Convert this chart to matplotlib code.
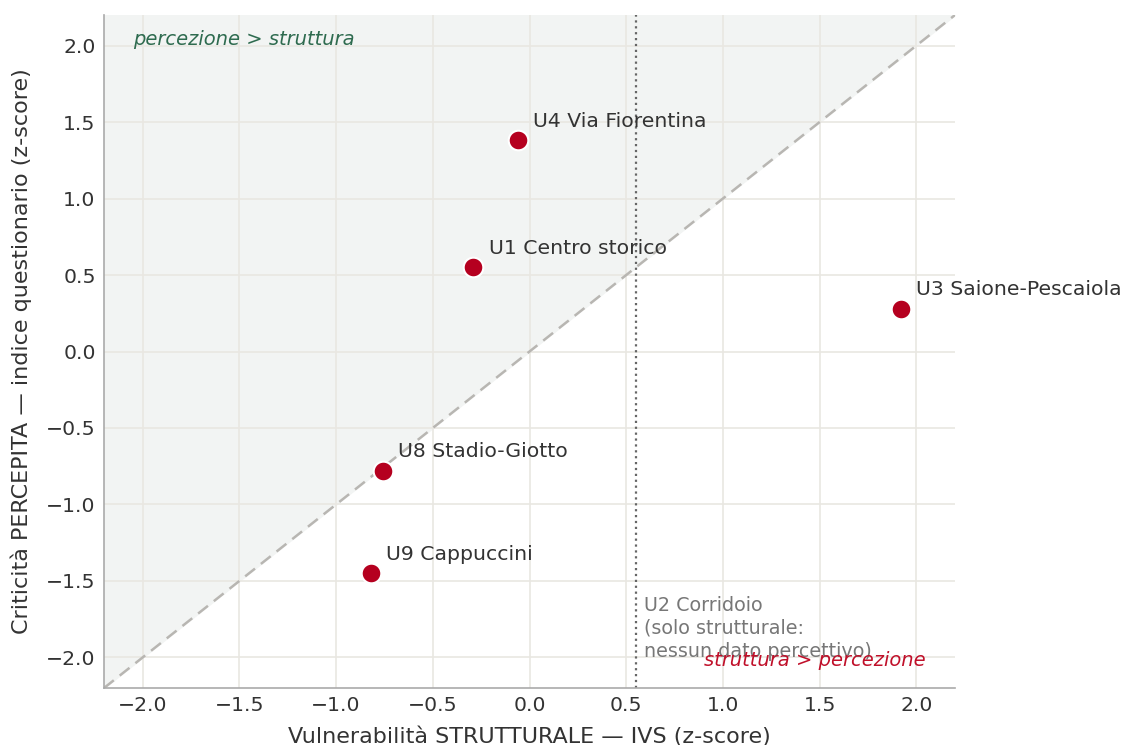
import matplotlib
matplotlib.use("Agg")
import matplotlib.pyplot as plt
import numpy as np

# unità urbane con entrambi gli indici
names = ["U4 Via Fiorentina", "U1 Centro storico", "U3 Saione-Pescaiola",
         "U8 Stadio-Giotto", "U9 Cappuccini"]
ivs_z = [-0.06, -0.29, 1.92, -0.76, -0.82]
perc_z = [1.38, 0.55, 0.28, -0.78, -1.45]

# U2: solo dato strutturale
u2_ivs = 0.55
u2_label = "U2 Corridoio\n(solo strutturale:\nnessun dato percettivo)"

lim = 2.2
ticks = [-2.0, -1.5, -1.0, -0.5, 0.0, 0.5, 1.0, 1.5, 2.0]

plt.rcParams["font.family"] = ["DejaVu Sans"]

fig = plt.figure(figsize=(11.25, 7.45), dpi=100)
ax = fig.add_axes([104 / 1125, 57 / 745, 851 / 1125, 673 / 745])

ax.set_xlim(-lim, lim)
ax.set_ylim(-lim, lim)

# zona percezione > struttura
xx = np.array([-lim, lim])
ax.fill_between(xx, xx, lim, color="#f2f4f3", zorder=0)
ax.plot(xx, xx, ls=(0, (5, 3)), color="#b8b6b2", lw=1.8, zorder=1)

ax.axvline(u2_ivs, color="#666666", ls=":", lw=1.6, zorder=1)

ax.scatter(ivs_z, perc_z, s=200, color="#b5001f", edgecolor="white",
           linewidth=1.5, zorder=3)
for n, x, y in zip(names, ivs_z, perc_z):
    ax.annotate(n, (x, y), xytext=(11, 7), textcoords="offset points",
                ha="left", va="bottom", fontsize=14.7, color="#333333")

ax.text(u2_ivs + 0.04, -1.6, u2_label, ha="left", va="top",
        fontsize=13.8, color="#777777", linespacing=1.25)

ax.text(-2.05, 2.04, "percezione > struttura", ha="left", va="center",
        fontsize=14, style="italic", color="#2e6b4f")
ax.text(2.05, -2.02, "struttura > percezione", ha="right", va="center",
        fontsize=14, style="italic", color="#c0102a")

ax.set_xticks(ticks)
ax.set_yticks(ticks)
ax.tick_params(labelsize=14.7, colors="#333333", length=0, pad=6)
ax.grid(True, color="#e9e7e2", lw=1.2, zorder=0)
ax.set_axisbelow(True)
for s in ["top", "right"]:
    ax.spines[s].set_visible(False)
for s in ["left", "bottom"]:
    ax.spines[s].set_color("#aaaaaa")
    ax.spines[s].set_linewidth(1.2)

ax.set_xlabel("Vulnerabilità STRUTTURALE — IVS (z-score)", fontsize=16,
              color="#333333", labelpad=8)
ax.set_ylabel("Criticità PERCEPITA — indice questionario (z-score)",
              fontsize=16, color="#333333", labelpad=10)

fig.savefig("out.png", dpi=100)
